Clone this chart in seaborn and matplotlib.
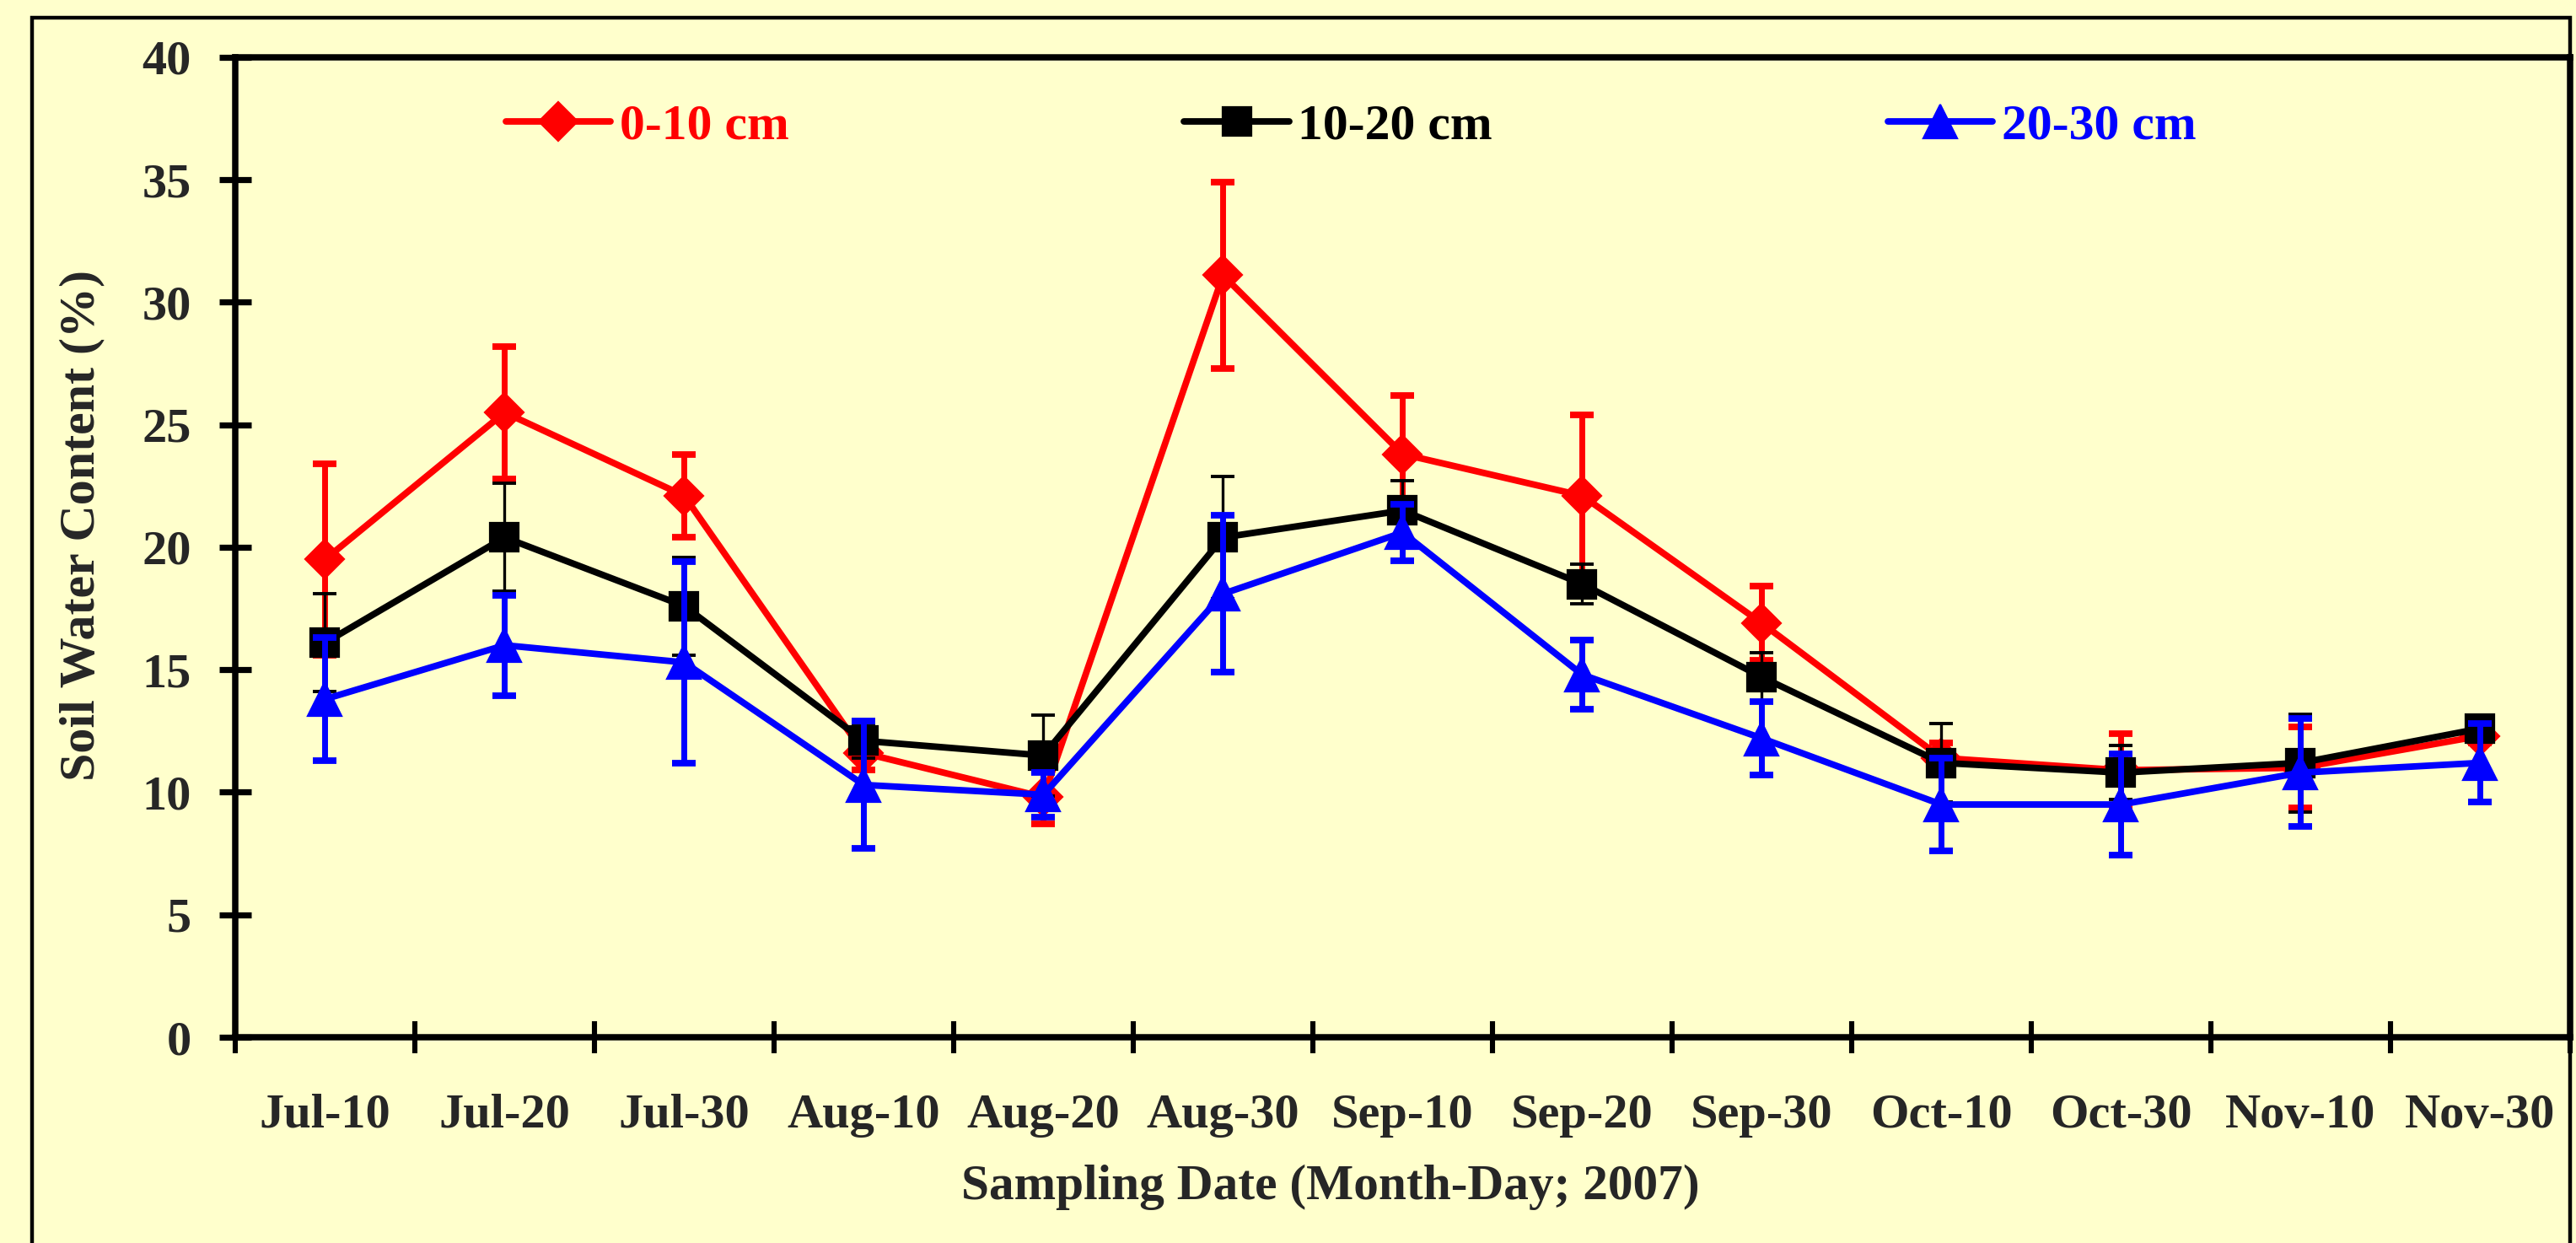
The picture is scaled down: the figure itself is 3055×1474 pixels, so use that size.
import matplotlib
matplotlib.use("Agg")
import matplotlib.pyplot as plt
import seaborn as sns
import pandas as pd
from matplotlib.patches import Rectangle
from matplotlib.ticker import FixedLocator, NullFormatter

# ------------------------------------------------------------------
# data
# ------------------------------------------------------------------
dates = ["Jul-10", "Jul-20", "Jul-30", "Aug-10", "Aug-20", "Aug-30", "Sep-10",
         "Sep-20", "Sep-30", "Oct-10", "Oct-30", "Nov-10", "Nov-30"]

swc_0_10 = [19.5, 25.5, 22.1, 11.6, 9.8, 31.1, 23.8, 22.1, 16.9, 11.4, 10.9, 11.0, 12.3]
err_0_10 = [3.9, 2.7, 1.7, 0.7, 1.1, 3.8, 2.4, 3.3, 1.5, 0.6, 1.5, 1.65, 0.3]

swc_10_20 = [16.1, 20.4, 17.6, 12.1, 11.5, 20.4, 21.5, 18.5, 14.7, 11.2, 10.8, 11.2, 12.6]
err_10_20 = [2.0, 2.2, 2.0, 0.7, 1.65, 2.5, 1.2, 0.8, 1.0, 1.6, 1.1, 2.0, 0.3]

swc_20_30 = [13.8, 16.0, 15.3, 10.3, 9.9, 18.1, 20.6, 14.8, 12.2, 9.5, 9.5, 10.8, 11.2]
err_20_30 = [2.5, 2.05, 4.1, 2.6, 0.9, 3.2, 1.15, 1.4, 1.5, 1.9, 2.05, 2.2, 1.6]

depths = ["0-10 cm", "10-20 cm", "20-30 cm"]
colors = ["#FF0000", "#000000", "#0000FF"]
markers = ["D", "s", "^"]

df = pd.DataFrame({
    "Date": dates * 3,
    "Depth": [d for d in depths for _ in dates],
    "SWC": swc_0_10 + swc_10_20 + swc_20_30,
    "SE": err_0_10 + err_10_20 + err_20_30,
})

# ------------------------------------------------------------------
# style
# ------------------------------------------------------------------
bg = "#FFFFCC"
sns.set_style("ticks")
plt.rcParams["font.family"] = ["Liberation Serif", "DejaVu Serif"]
plt.rcParams["font.weight"] = "bold"

fig = plt.figure(figsize=(15.275, 7.37), dpi=200, facecolor=bg)
ax = fig.add_axes([0.0913, 0.1655, 0.9064, 0.7885])
ax.set_facecolor(bg)

msizes = {"D": 11.5, "s": 12.5, "^": 14.5}
bar_lw = [2.5, 1.2, 2.5]
cap_lw = [2.8, 1.4, 2.8]

for i, depth in enumerate(depths):
    sub = df[df["Depth"] == depth]
    ax.errorbar(sub["Date"], sub["SWC"], yerr=sub["SE"], fmt="none",
                ecolor=colors[i], elinewidth=bar_lw[i], capsize=5,
                capthick=cap_lw[i], zorder=2 + 2 * i)
    sns.lineplot(data=sub, x="Date", y="SWC", ax=ax, sort=False,
                 color=colors[i], marker=markers[i], markersize=msizes[markers[i]],
                 markeredgecolor=colors[i], markeredgewidth=0.8,
                 linewidth=2.8, label=depth, zorder=3 + 2 * i)

# ------------------------------------------------------------------
# axes
# ------------------------------------------------------------------
ax.set_xlim(-0.5, len(dates) - 0.5)
ax.set_ylim(0, 40)
ax.set_yticks(range(0, 41, 5))

# tick marks on category boundaries, labels in between
ax.xaxis.set_major_locator(FixedLocator([k - 0.5 for k in range(len(dates) + 1)]))
ax.xaxis.set_major_formatter(NullFormatter())
ax.xaxis.set_minor_locator(FixedLocator(list(range(len(dates)))))
ax.set_xticklabels(dates, minor=True)

ax.tick_params(axis="x", which="major", direction="inout", length=13.5, width=2.2, color="black")
ax.tick_params(axis="x", which="minor", length=0, pad=24, labelsize=21)
ax.tick_params(axis="y", direction="inout", length=13.5, width=2.6, pad=12,
               labelsize=21, color="black")
for lab in ax.get_xticklabels(minor=True) + ax.get_yticklabels():
    lab.set_fontweight("bold")

for side in ["left", "right", "top", "bottom"]:
    ax.spines[side].set_visible(True)
    ax.spines[side].set_linewidth(2.7)
    ax.spines[side].set_color("black")

ax.set_xlabel("Sampling Date (Month-Day; 2007)", fontsize=21.4, fontweight="bold")
ax.xaxis.set_label_coords(0.469, -0.13)
ax.set_ylabel("Soil Water Content (%)", fontsize=21.6, fontweight="bold")
ax.yaxis.set_label_coords(-0.056, 0.522)

leg = ax.legend(loc="center left", bbox_to_anchor=(0.1158, 0.929), ncol=3,
                frameon=False, fontsize=21.5, handlelength=2.09, handletextpad=0.17,
                columnspacing=7.85, borderpad=0, borderaxespad=0)
for txt, c in zip(leg.get_texts(), colors):
    txt.set_color(c)
    txt.set_fontweight("bold")

# outer frame around the chart area
fig.patches.append(Rectangle((0.0124, -0.05), 0.9853, 1.0357, transform=fig.transFigure,
                             fill=False, edgecolor="black", linewidth=1.6, clip_on=False))

fig.savefig("out.png", dpi=200, facecolor=bg)
